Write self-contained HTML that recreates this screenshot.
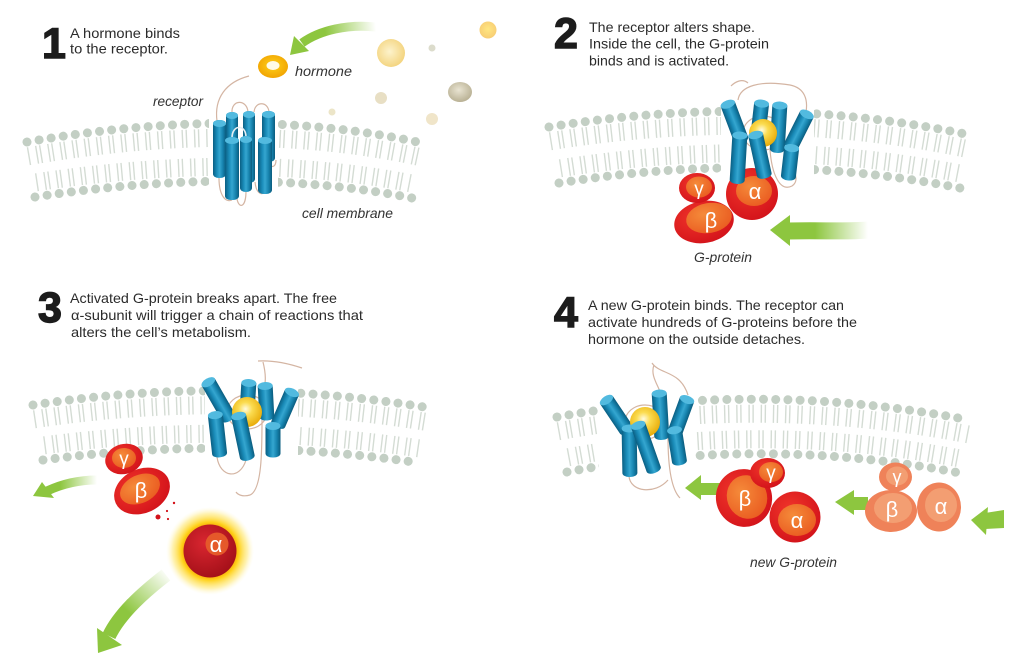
<!DOCTYPE html>
<html><head><meta charset="utf-8">
<style>
html,body{margin:0;padding:0;background:#fff;}
svg{display:block;}
.t{font-family:"Liberation Sans",sans-serif;font-size:14px;fill:#2b2b2b;}
.n{font-family:"Liberation Sans",sans-serif;font-size:43px;font-weight:bold;fill:#1c1c1c;stroke:#1c1c1c;stroke-width:1.4;}
.i{font-family:"Liberation Sans",sans-serif;font-size:14px;font-style:italic;fill:#333;}
.g{font-family:"Liberation Sans",sans-serif;fill:#fff;text-anchor:middle;}
.hd{fill:none;stroke:#c3cfc4;stroke-width:9;stroke-linecap:round;stroke-dasharray:0.01 12.2;}
.tl{fill:none;stroke:#d4dcd4;stroke-width:18;stroke-dasharray:1.4 2.6 1.4 6.8;stroke-dashoffset:2.7;}
.lp{fill:none;stroke:#d4b5a3;stroke-width:1.2;}
</style></head><body>
<svg width="1024" height="671" viewBox="0 0 1024 671" xmlns="http://www.w3.org/2000/svg">
<defs>
 <linearGradient id="cyl" x1="0" y1="0" x2="1" y2="0">
  <stop offset="0" stop-color="#0a5f83"/>
  <stop offset="0.3" stop-color="#1a8cb9"/>
  <stop offset="0.5" stop-color="#35a6d0"/>
  <stop offset="0.75" stop-color="#1784af"/>
  <stop offset="1" stop-color="#0a5c7e"/>
 </linearGradient>
 <radialGradient id="hy" cx="0.45" cy="0.4" r="0.65">
  <stop offset="0" stop-color="#fffbe0"/>
  <stop offset="0.35" stop-color="#fbdc50"/>
  <stop offset="1" stop-color="#e6a600"/>
 </radialGradient>
 <radialGradient id="ho" cx="0.5" cy="0.45" r="0.6">
  <stop offset="0" stop-color="#ffd21a"/>
  <stop offset="1" stop-color="#f0a000"/>
 </radialGradient>
 <radialGradient id="py" cx="0.45" cy="0.45" r="0.6">
  <stop offset="0" stop-color="#fdf3cc"/>
  <stop offset="1" stop-color="#f3d27a"/>
 </radialGradient>
 <radialGradient id="pg" cx="0.45" cy="0.4" r="0.6">
  <stop offset="0" stop-color="#e9e4d2"/>
  <stop offset="1" stop-color="#b9b194"/>
 </radialGradient>
 <radialGradient id="rd" cx="0.4" cy="0.35" r="0.75">
  <stop offset="0" stop-color="#f0342a"/>
  <stop offset="1" stop-color="#d01019"/>
 </radialGradient>
 <radialGradient id="or" cx="0.4" cy="0.35" r="0.75">
  <stop offset="0" stop-color="#f58b3a"/>
  <stop offset="1" stop-color="#e9581f"/>
 </radialGradient>
 <radialGradient id="ad" cx="0.4" cy="0.35" r="0.7">
  <stop offset="0" stop-color="#d92630"/>
  <stop offset="1" stop-color="#a20f18"/>
 </radialGradient>
 <radialGradient id="glow" gradientUnits="userSpaceOnUse" cx="210" cy="551" r="44">
  <stop offset="0.55" stop-color="#f4a000"/>
  <stop offset="0.66" stop-color="#ffd21c"/>
  <stop offset="0.85" stop-color="#ffe97a" stop-opacity="0.6"/>
  <stop offset="1" stop-color="#fff8d0" stop-opacity="0"/>
 </radialGradient>
 <linearGradient id="ga1" gradientUnits="userSpaceOnUse" x1="376" y1="27" x2="325" y2="32">
  <stop offset="0" stop-color="#8dc63f" stop-opacity="0"/><stop offset="1" stop-color="#8dc63f"/>
 </linearGradient>
 <linearGradient id="ga2" gradientUnits="userSpaceOnUse" x1="868" y1="0" x2="815" y2="0">
  <stop offset="0" stop-color="#8dc63f" stop-opacity="0"/><stop offset="1" stop-color="#8dc63f"/>
 </linearGradient>
 <linearGradient id="ga3" gradientUnits="userSpaceOnUse" x1="97" y1="0" x2="60" y2="0">
  <stop offset="0" stop-color="#8dc63f" stop-opacity="0"/><stop offset="1" stop-color="#8dc63f"/>
 </linearGradient>
 <linearGradient id="ga4" gradientUnits="userSpaceOnUse" x1="168" y1="572" x2="128" y2="612">
  <stop offset="0" stop-color="#8dc63f" stop-opacity="0"/><stop offset="1" stop-color="#8dc63f"/>
 </linearGradient>
 <clipPath id="c1"><rect x="0" y="0" width="209" height="280"/><rect x="278" y="0" width="234" height="280"/></clipPath>
 <clipPath id="c2"><rect x="512" y="0" width="209" height="280"/><rect x="814" y="0" width="210" height="280"/></clipPath>
 <clipPath id="c3"><rect x="0" y="280" width="205" height="391"/><rect x="298" y="280" width="214" height="391"/></clipPath>
 <clipPath id="c4"><rect x="512" y="280" width="87" height="391"/><rect x="695" y="280" width="329" height="391"/></clipPath>
</defs>

<!-- ============ TEXT ============ -->
<text class="n" x="42" y="58">1</text>
<text class="t" x="70" y="38" textLength="110" lengthAdjust="spacingAndGlyphs">A hormone binds</text>
<text class="t" x="70" y="53.5" textLength="98" lengthAdjust="spacingAndGlyphs">to the receptor.</text>

<text class="n" x="554" y="48">2</text>
<text class="t" x="589" y="32" textLength="166" lengthAdjust="spacingAndGlyphs">The receptor alters shape.</text>
<text class="t" x="589" y="48.5" textLength="180" lengthAdjust="spacingAndGlyphs">Inside the cell, the G-protein</text>
<text class="t" x="589" y="65.5" textLength="140" lengthAdjust="spacingAndGlyphs">binds and is activated.</text>

<text class="n" x="38" y="322">3</text>
<text class="t" x="70" y="303" textLength="267" lengthAdjust="spacingAndGlyphs">Activated G-protein breaks apart. The free</text>
<text class="t" x="71" y="320" textLength="292" lengthAdjust="spacingAndGlyphs">α-subunit will trigger a chain of reactions that</text>
<text class="t" x="71" y="337" textLength="180" lengthAdjust="spacingAndGlyphs">alters the cell’s metabolism.</text>

<text class="n" x="554" y="327">4</text>
<text class="t" x="588" y="310" textLength="256" lengthAdjust="spacingAndGlyphs">A new G-protein binds. The receptor can</text>
<text class="t" x="588" y="327" textLength="269" lengthAdjust="spacingAndGlyphs">activate hundreds of G-proteins before the</text>
<text class="t" x="588" y="344" textLength="217" lengthAdjust="spacingAndGlyphs">hormone on the outside detaches.</text>

<!-- ============ MEMBRANES ============ -->
<g clip-path="url(#c1)">
 <path class="tl" d="M27,156.5 Q245,118.5 422,157.5"/>
 <path class="tl" d="M35,182.5 Q245,150.5 412,183.5"/>
 <path class="hd" d="M27,142 Q245,104 422,143"/>
 <path class="hd" d="M35,197 Q245,165 412,198"/>
</g>
<g clip-path="url(#c2)">
 <path class="tl" d="M549,141.5 Q765,106.5 970,149.5"/>
 <path class="tl" d="M559,168.5 Q765,135.5 960,173.5"/>
 <path class="hd" d="M549,127 Q765,92 970,135"/>
 <path class="hd" d="M559,183 Q765,150 960,188"/>
</g>
<g clip-path="url(#c3)">
 <path class="tl" d="M33,419.5 Q230,389.5 430,422.5"/>
 <path class="tl" d="M43,445.5 Q230,420.5 420,448.5"/>
 <path class="hd" d="M33,405 Q230,375 430,408"/>
 <path class="hd" d="M43,460 Q230,435 420,463"/>
</g>
<g clip-path="url(#c4)">
 <path class="tl" d="M557,431.5 Q760,394.5 969,434.5"/>
 <path class="tl" d="M567,457.5 Q760,420.5 960,458.5"/>
 <path class="hd" d="M557,417 Q760,380 969,420"/>
 <path class="hd" d="M567,472 Q760,435 960,473"/>
</g>

<!-- ============ PANEL 1 ============ -->
<circle cx="488" cy="30" r="8.5" fill="url(#ho)" opacity="0.55"/>
<circle cx="391" cy="53" r="14" fill="url(#py)"/>
<circle cx="432" cy="48" r="3.5" fill="#dcdccc"/>
<ellipse cx="460" cy="92" rx="12" ry="10" fill="url(#pg)"/>
<circle cx="381" cy="98" r="6" fill="#e8dfc4"/>
<circle cx="432" cy="119" r="6" fill="#f0e5c9"/>
<circle cx="332" cy="112" r="3.5" fill="#ece5c8"/>
<path d="M376,27 C348,24 320,30 302,43" fill="none" stroke="url(#ga1)" stroke-width="9"/>
<polygon points="290,55 309,51 294,36" fill="#8dc63f"/>
<ellipse cx="273" cy="66.5" rx="15" ry="11.5" fill="url(#ho)"/>
<ellipse cx="273" cy="65.5" rx="6.5" ry="4.5" fill="#fffbe8"/>
<text class="i" x="295" y="76" textLength="57" lengthAdjust="spacingAndGlyphs">hormone</text>
<text class="i" x="153" y="106" textLength="50" lengthAdjust="spacingAndGlyphs">receptor</text>
<text class="i" x="302" y="218" textLength="91" lengthAdjust="spacingAndGlyphs">cell membrane</text>
<path class="lp" d="M217,121 C214,98 226,82 249,76"/>
<path class="lp" d="M232,113 C231,99 247,99 248,112"/>
<path class="lp" d="M254,112 C255,101 268,101 269,112"/>
<path class="lp" d="M219,178 C219,196 226,203 232,200"/>
<path class="lp" d="M237,199 C239,209 246,208 246,191"/>
<path class="lp" d="M255,182 C256,192 260,195 264,193"/>
<path class="lp" d="M268,162 C272,170 276,166 276,160"/>
<rect x="213" y="120" width="13" height="58" rx="6" ry="4" fill="url(#cyl)"/><ellipse cx="219.5" cy="123.5" rx="6.5" ry="3.5" fill="#52badf"/>
<rect x="226" y="112" width="12" height="30" rx="6" ry="4" fill="url(#cyl)"/><ellipse cx="232" cy="115.5" rx="6" ry="3.5" fill="#52badf"/>
<rect x="243" y="111" width="12" height="72" rx="6" ry="4" fill="url(#cyl)"/><ellipse cx="249" cy="114.5" rx="6" ry="3.5" fill="#52badf"/>
<rect x="262" y="111" width="13" height="51" rx="6" ry="4" fill="url(#cyl)"/><ellipse cx="268.5" cy="114.5" rx="6.5" ry="3.5" fill="#52badf"/>
<path d="M232,138 C232,124 246,124 246,137" fill="none" stroke="#e6eef2" stroke-width="1.6"/>
<rect x="225" y="137" width="14" height="63" rx="6" ry="4" fill="url(#cyl)"/><ellipse cx="232" cy="140.5" rx="7" ry="3.5" fill="#52badf"/>
<rect x="240" y="136" width="12" height="56" rx="6" ry="4" fill="url(#cyl)"/><ellipse cx="246" cy="139.5" rx="6" ry="3.5" fill="#52badf"/>
<rect x="258" y="137" width="14" height="57" rx="6" ry="4" fill="url(#cyl)"/><ellipse cx="265" cy="140.5" rx="7" ry="3.5" fill="#52badf"/>

<!-- ============ PANEL 2 ============ -->
<ellipse cx="704" cy="222" rx="30" ry="21" transform="rotate(-10 704 222)" fill="url(#rd)"/>
<ellipse cx="709" cy="218" rx="23" ry="15" transform="rotate(-10 709 218)" fill="url(#or)"/>
<text class="g" x="711" y="228" font-size="22">β</text>
<ellipse cx="697" cy="188" rx="18" ry="15" fill="url(#rd)"/>
<ellipse cx="699" cy="187" rx="13" ry="10.5" fill="url(#or)"/>
<text class="g" x="699" y="195" font-size="19">γ</text>
<circle cx="752" cy="194" r="26" fill="url(#rd)"/>
<ellipse cx="754" cy="191" rx="18" ry="15" fill="url(#or)"/>
<text class="g" x="755" y="199" font-size="22">α</text>
<path class="lp" d="M738,100 C740,86 760,80 790,85 C805,88 808,100 806,112"/>
<path class="lp" d="M748,83 C742,78 735,82 731,86"/>
<ellipse class="lp" cx="763" cy="133" rx="20" ry="17"/>
<path class="lp" d="M770,150 C772,175 780,192 792,186 C798,182 796,176 794,170"/>
<g transform="translate(760,117.5) rotate(6.5)"><rect x="-7.5" y="-17.5" width="15" height="35" rx="7" ry="4" fill="url(#cyl)"/><ellipse cx="0" cy="-14" rx="7.5" ry="4" fill="#52badf"/></g>
<g transform="translate(778.5,127.5) rotate(3.4)"><rect x="-7.5" y="-25.5" width="15" height="51" rx="7" ry="4" fill="url(#cyl)"/><ellipse cx="0" cy="-22" rx="7.5" ry="4" fill="#52badf"/></g>
<g transform="translate(734.5,122) rotate(-20.6)"><rect x="-7.5" y="-22.5" width="15" height="45" rx="7" ry="4" fill="url(#cyl)"/><ellipse cx="0" cy="-19" rx="7.5" ry="4" fill="#52badf"/></g>
<g transform="translate(799,130) rotate(26.6)"><rect x="-7.5" y="-21" width="15" height="42" rx="7" ry="4" fill="url(#cyl)"/><ellipse cx="0" cy="-17.5" rx="7.5" ry="4" fill="#52badf"/></g>
<circle cx="763" cy="133" r="14" fill="url(#hy)"/>
<g transform="translate(738.5,158) rotate(3.4)"><rect x="-7.5" y="-26" width="15" height="52" rx="7" ry="4" fill="url(#cyl)"/><ellipse cx="0" cy="-22.5" rx="7.5" ry="4" fill="#52badf"/></g>
<g transform="translate(760,155) rotate(-12.3)"><rect x="-7.5" y="-24" width="15" height="48" rx="7" ry="4" fill="url(#cyl)"/><ellipse cx="0" cy="-20.5" rx="7.5" ry="4" fill="#52badf"/></g>
<g transform="translate(790,162.5) rotate(6.5)"><rect x="-7.5" y="-18" width="15" height="36" rx="7" ry="4" fill="url(#cyl)"/><ellipse cx="0" cy="-14.5" rx="7.5" ry="4" fill="#52badf"/></g>
<path d="M788,231 C820,230 845,232 868,230" fill="none" stroke="url(#ga2)" stroke-width="17"/>
<polygon points="770,230 790,215 790,246" fill="#8dc63f"/>
<text class="i" x="694" y="262" textLength="58" lengthAdjust="spacingAndGlyphs">G-protein</text>

<!-- ============ PANEL 3 ============ -->
<path class="lp" d="M258,361 C275,360 290,364 302,368"/>
<path class="lp" d="M263,362 C265,370 266,376 265,383"/>
<ellipse class="lp" cx="247" cy="412" rx="20" ry="17"/>
<path class="lp" d="M217,457 C220,478 240,480 246,460"/>
<path class="lp" d="M262,420 C262,450 262,490 250,495 C243,497 238,495 236,492"/>
<g transform="translate(248,396.5) rotate(3.5)"><rect x="-7.5" y="-17" width="15" height="34" rx="7" ry="4" fill="url(#cyl)"/><ellipse cx="0" cy="-13.5" rx="7.5" ry="4" fill="#52badf"/></g>
<g transform="translate(266,401.5) rotate(-3)"><rect x="-7.5" y="-19" width="15" height="38" rx="7" ry="4" fill="url(#cyl)"/><ellipse cx="0" cy="-15.5" rx="7.5" ry="4" fill="#52badf"/></g>
<g transform="translate(218.5,400) rotate(-29.9)"><rect x="-7.5" y="-24" width="15" height="48" rx="7" ry="4" fill="url(#cyl)"/><ellipse cx="0" cy="-20.5" rx="7.5" ry="4" fill="#52badf"/></g>
<g transform="translate(285,408.5) rotate(23.4)"><rect x="-7.5" y="-21" width="15" height="42" rx="7" ry="4" fill="url(#cyl)"/><ellipse cx="0" cy="-17.5" rx="7.5" ry="4" fill="#52badf"/></g>
<circle cx="247" cy="412" r="15" fill="url(#hy)"/>
<g transform="translate(217.5,434.5) rotate(-6.3)"><rect x="-7.5" y="-23" width="15" height="46" rx="7" ry="4" fill="url(#cyl)"/><ellipse cx="0" cy="-19.5" rx="7.5" ry="4" fill="#52badf"/></g>
<g transform="translate(243,436.5) rotate(-12)"><rect x="-7.5" y="-24.5" width="15" height="49" rx="7" ry="4" fill="url(#cyl)"/><ellipse cx="0" cy="-21" rx="7.5" ry="4" fill="#52badf"/></g>
<g transform="translate(273,440) rotate(0)"><rect x="-7.5" y="-17.5" width="15" height="35" rx="7" ry="4" fill="url(#cyl)"/><ellipse cx="0" cy="-14" rx="7.5" ry="4" fill="#52badf"/></g>
<ellipse cx="142" cy="491" rx="29" ry="22" transform="rotate(-25 142 491)" fill="url(#rd)"/>
<ellipse cx="140" cy="489" rx="21" ry="14" transform="rotate(-25 140 489)" fill="url(#or)"/>
<text class="g" x="141" y="498" font-size="22">β</text>
<ellipse cx="124" cy="459" rx="19" ry="15" transform="rotate(-15 124 459)" fill="url(#rd)"/>
<ellipse cx="124" cy="458" rx="12" ry="10" fill="url(#or)"/>
<text class="g" x="124" y="465" font-size="19">γ</text>
<circle cx="158" cy="517" r="2.5" fill="#d3121a"/>
<circle cx="167" cy="511" r="1.1" fill="#d3121a"/>
<circle cx="168" cy="519" r="1.1" fill="#d3121a"/>
<circle cx="174" cy="503" r="1.2" fill="#d3121a"/>
<circle cx="210" cy="551" r="44" fill="url(#glow)"/>
<circle cx="210" cy="551" r="26.5" fill="url(#ad)"/>
<circle cx="217" cy="544" r="11.5" fill="#e5592a"/>
<text class="g" x="216" y="552" font-size="22">α</text>
<path d="M97,480 C78,480 62,484 47,491" fill="none" stroke="url(#ga3)" stroke-width="9"/>
<polygon points="33,496 42,482 54,498" fill="#8dc63f"/>
<path d="M166,575 C140,595 119,615 109,636" fill="none" stroke="url(#ga4)" stroke-width="14"/>
<polygon points="98,653 97,628 122,645" fill="#8dc63f"/>

<!-- ============ PANEL 4 ============ -->
<path class="lp" d="M652,363 C660,375 680,370 688,395"/>
<path class="lp" d="M654,365 C650,375 658,385 660,392"/>
<ellipse class="lp" cx="645" cy="422" rx="20" ry="17"/>
<path class="lp" d="M629,476 C630,492 655,495 668,480"/>
<path class="lp" d="M668,437 C668,470 672,490 680,498"/>
<g transform="translate(660.5,415) rotate(-3.4)"><rect x="-7.5" y="-25" width="15" height="50" rx="7" ry="4" fill="url(#cyl)"/><ellipse cx="0" cy="-21.5" rx="7.5" ry="4" fill="#52badf"/></g>
<g transform="translate(616.5,415) rotate(-34)"><rect x="-7.5" y="-21.5" width="15" height="43" rx="7" ry="4" fill="url(#cyl)"/><ellipse cx="0" cy="-18" rx="7.5" ry="4" fill="#52badf"/></g>
<g transform="translate(681,416) rotate(20.2)"><rect x="-7.5" y="-21" width="15" height="42" rx="7" ry="4" fill="url(#cyl)"/><ellipse cx="0" cy="-17.5" rx="7.5" ry="4" fill="#52badf"/></g>
<circle cx="645" cy="422" r="15" fill="url(#hy)"/>
<g transform="translate(629.5,451) rotate(-1)"><rect x="-7.5" y="-26" width="15" height="52" rx="7" ry="4" fill="url(#cyl)"/><ellipse cx="0" cy="-22.5" rx="7.5" ry="4" fill="#52badf"/></g>
<g transform="translate(646,447.5) rotate(-19.4)"><rect x="-7.5" y="-27" width="15" height="54" rx="7" ry="4" fill="url(#cyl)"/><ellipse cx="0" cy="-23.5" rx="7.5" ry="4" fill="#52badf"/></g>
<g transform="translate(677,446) rotate(-9)"><rect x="-7.5" y="-19.5" width="15" height="39" rx="7" ry="4" fill="url(#cyl)"/><ellipse cx="0" cy="-16" rx="7.5" ry="4" fill="#52badf"/></g>
<rect x="699" y="483" width="22" height="12" fill="#8dc63f"/>
<polygon points="685,488 701,475 701,500" fill="#8dc63f"/>
<circle cx="795" cy="517" r="25.5" fill="url(#rd)"/>
<ellipse cx="797" cy="520" rx="19" ry="16" fill="url(#or)"/>
<text class="g" x="797" y="528" font-size="22">α</text>
<ellipse cx="744" cy="498" rx="28" ry="29" transform="rotate(-20 744 498)" fill="url(#rd)"/>
<ellipse cx="747" cy="497" rx="20" ry="22" transform="rotate(-20 747 497)" fill="url(#or)"/>
<text class="g" x="745" y="506" font-size="22">β</text>
<ellipse cx="767.5" cy="473" rx="17.5" ry="15" fill="url(#rd)"/>
<ellipse cx="771" cy="472" rx="12" ry="10" fill="url(#or)"/>
<text class="g" x="771" y="479" font-size="19">γ</text>
<text class="i" x="750" y="567" textLength="87" lengthAdjust="spacingAndGlyphs">new G-protein</text>
<rect x="852" y="497" width="16" height="13" fill="#8dc63f"/>
<polygon points="835,502 854,490 854,515" fill="#8dc63f"/>
<ellipse cx="895.5" cy="477" rx="16.5" ry="14.5" fill="#ef8259"/>
<ellipse cx="897" cy="476" rx="11" ry="9.5" fill="#f39e72"/>
<text class="g" x="897" y="483" font-size="18">γ</text>
<ellipse cx="939" cy="507" rx="22" ry="24.5" fill="#ef8259"/>
<ellipse cx="941" cy="505" rx="16" ry="17" fill="#f39e72"/>
<text class="g" x="941" y="514" font-size="22">α</text>
<ellipse cx="891" cy="511" rx="26" ry="21" fill="#ef8259"/>
<ellipse cx="893" cy="508" rx="19" ry="15" fill="#f39e72"/>
<text class="g" x="892" y="517" font-size="22">β</text>
<polygon points="985,513 1004,510 1004,528 985,529" fill="#8dc63f"/>
<polygon points="971,520 988,507 986,535" fill="#8dc63f"/>
</svg>
</body></html>
